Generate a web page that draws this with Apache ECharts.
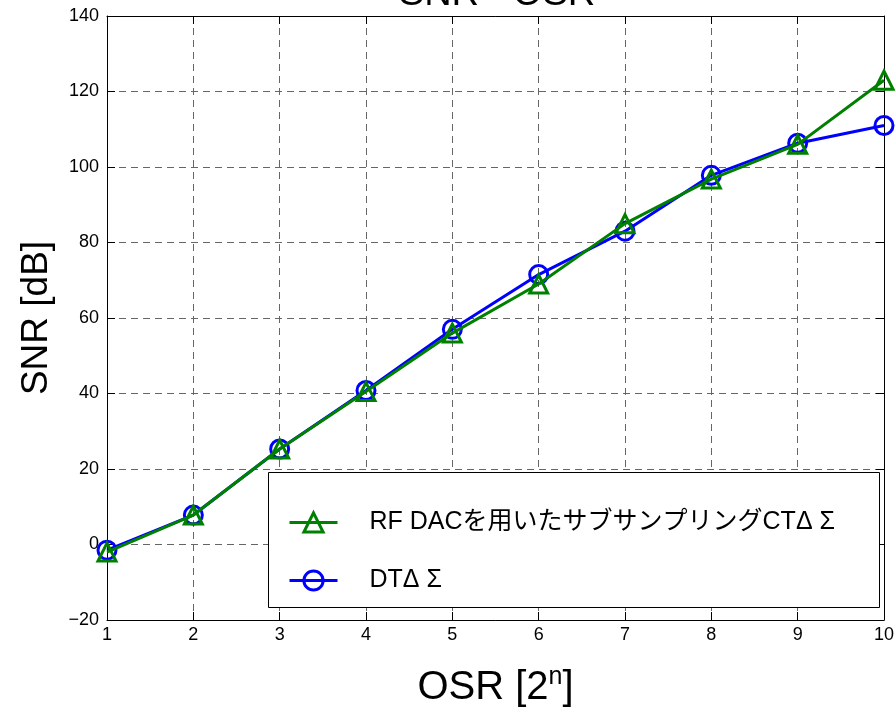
<!DOCTYPE html>
<html>
<head>
<meta charset="utf-8">
<script src="https://cdn.jsdelivr.net/npm/echarts@6/dist/echarts.min.js"></script>
<style>
  html, body { margin: 0; padding: 0; background: #fff; }
  #chart { width: 895px; height: 708px; }
</style>
</head>
<body>
<div id="chart"></div>
<script>
// OSR exponent n (OSR = 2^n)
const osrExp = [1, 2, 3, 4, 5, 6, 7, 8, 9, 10];
// SNR [dB] of the sub-sampling CT ΔΣ using an RF DAC
const snrRfDac = [-2, 7.8, 25.3, 40.5, 56, 69, 85, 96.8, 106, 123];
// SNR [dB] of the discrete-time ΔΣ
const snrDt = [-1.5, 7.8, 25.3, 40.8, 57, 71.5, 83, 97.8, 106.3, 111];

const nameRf = 'RF DACを用いたサブサンプリングCTΔ Σ';
const nameDt = 'DTΔ Σ';

const GREEN = '#008000';
const BLUE = '#0000ff';
const FONT = '"Liberation Sans", "Noto Sans CJK JP", sans-serif';

const pairs = (xs, ys) => xs.map((x, i) => [x, ys[i]]);
const minus = v => String(v).replace('-', '\u2212');

const chart = echarts.init(document.getElementById('chart'));

const gridLine = { show: true, lineStyle: { color: '#666', type: [7, 5], width: 1 } };

const boxAxisCommon = {
  type: 'value',
  axisLine: { show: true, onZero: false, lineStyle: { color: '#000', width: 1 } },
  axisTick: { show: true, inside: true, length: 8, lineStyle: { color: '#000' } },
  axisLabel: { show: false },
  splitLine: { show: false }
};

chart.setOption({
  animation: false,
  backgroundColor: '#fff',
  grid: { left: 107, right: 11, top: 16, bottom: 88, outerBoundsMode: 'none', containLabel: false },
  graphic: [
    {
      type: 'text',
      style: {
        text: 'SNR - OSR',
        x: 497, y: -5,
        textAlign: 'center', textVerticalAlign: 'middle',
        fontSize: 38, fontFamily: FONT, fill: '#000'
      },
      z: 10
    },
    {
      type: 'rect',
      shape: { x: 268.5, y: 472.5, width: 611, height: 135 },
      style: { fill: '#fff', stroke: '#000', lineWidth: 1 },
      z: 50
    }
  ],
  legend: {
    orient: 'vertical',
    left: 288, top: 510,
    padding: 0,
    itemWidth: 48, itemHeight: 24,
    itemGap: 33,
    z: 60,
    data: [nameRf, nameDt],
    itemStyle: { borderWidth: 3 },
    lineStyle: { width: 3 },
    textStyle: { fontSize: 25, fontFamily: FONT, color: '#000', padding: [0, 0, 0, 27] }
  },
  xAxis: [
    {
      type: 'value', min: 1, max: 10, interval: 1,
      position: 'bottom',
      name: '{a|OSR [2}{s|n}{a|]}',
      nameLocation: 'middle', nameGap: 45,
      nameTextStyle: {
        rich: {
          a: { fontSize: 40, fontFamily: FONT, color: '#000', lineHeight: 46 },
          s: { fontSize: 25, fontFamily: FONT, color: '#000', lineHeight: 28, verticalAlign: 'top' }
        }
      },
      axisLine: { show: true, onZero: false, lineStyle: { color: '#000', width: 1 } },
      axisTick: { show: true, inside: true, length: 8, lineStyle: { color: '#000' } },
      axisLabel: { fontSize: 18, fontFamily: FONT, color: '#000', margin: 6 },
      splitLine: gridLine
    },
    Object.assign({ min: 1, max: 10, interval: 1, position: 'top' }, boxAxisCommon)
  ],
  yAxis: [
    {
      type: 'value', min: -20, max: 140, interval: 20,
      position: 'left',
      name: 'SNR [dB]',
      nameLocation: 'middle', nameGap: 52,
      nameTextStyle: { fontSize: 37, fontFamily: FONT, color: '#000' },
      axisLine: { show: true, onZero: false, lineStyle: { color: '#000', width: 1 } },
      axisTick: { show: true, inside: true, length: 8, lineStyle: { color: '#000' } },
      axisLabel: { fontSize: 18, fontFamily: FONT, color: '#000', margin: 8, formatter: minus },
      splitLine: gridLine
    },
    Object.assign({ min: -20, max: 140, interval: 20, position: 'right' }, boxAxisCommon)
  ],
  series: [
    {
      name: nameDt,
      type: 'line',
      data: pairs(osrExp, snrDt),
      symbol: 'circle', symbolSize: 18,
      showAllSymbol: true,
      lineStyle: { color: BLUE, width: 3 },
      itemStyle: { color: 'rgba(0,0,0,0)', borderColor: BLUE, borderWidth: 3 },
      z: 3
    },
    {
      name: nameRf,
      type: 'line',
      data: pairs(osrExp, snrRfDac),
      symbol: 'triangle', symbolSize: 18,
      showAllSymbol: true,
      lineStyle: { color: GREEN, width: 3 },
      itemStyle: { color: 'rgba(0,0,0,0)', borderColor: GREEN, borderWidth: 3 },
      z: 4
    }
  ]
});
</script>
</body>
</html>
